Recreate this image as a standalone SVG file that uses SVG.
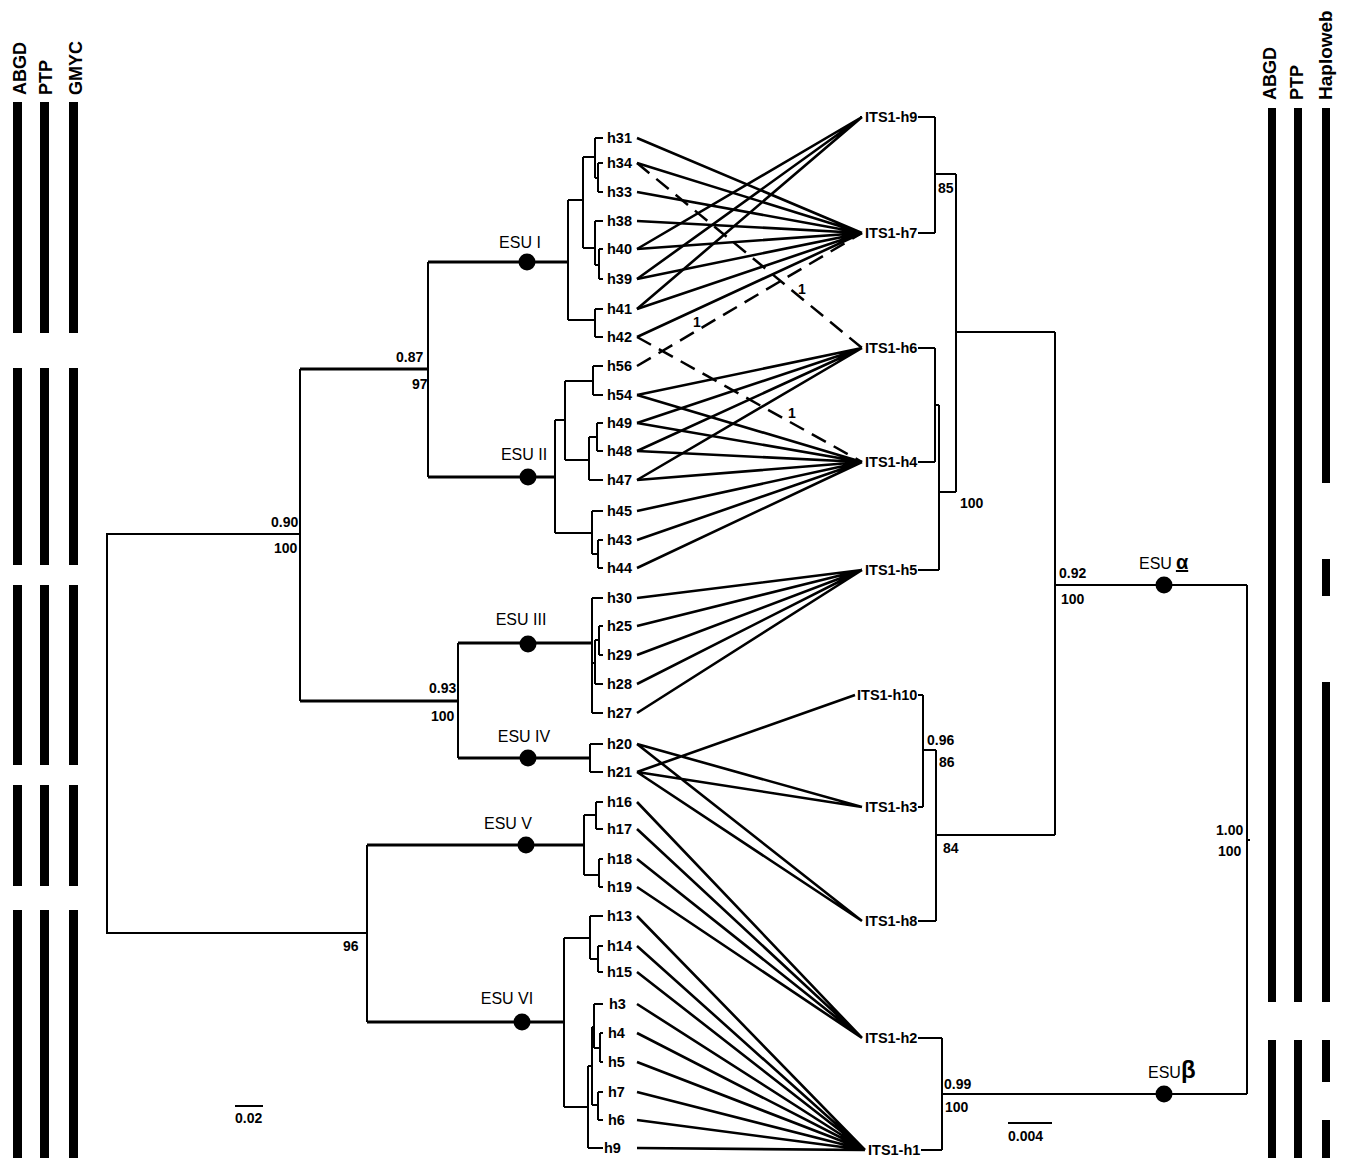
<svg xmlns="http://www.w3.org/2000/svg" width="1349" height="1158" viewBox="0 0 1349 1158">
<style>
.t{fill:none;stroke:#000;stroke-width:2}
.tk{fill:none;stroke:#000;stroke-width:3}
.c{fill:none;stroke:#000;stroke-width:2.6}
.d{fill:none;stroke:#000;stroke-width:2.5;stroke-dasharray:16 9}
.bar{fill:#000}
.lab{font-family:"Liberation Sans",Arial,sans-serif;font-weight:bold;font-size:14.5px;fill:#000}
.num{font-family:"Liberation Sans",Arial,sans-serif;font-weight:bold;font-size:14px;fill:#000}
.esu{font-family:"Liberation Sans",Arial,sans-serif;font-size:16px;fill:#000}
.ttl{font-family:"Liberation Sans",Arial,sans-serif;font-weight:bold;font-size:18px;fill:#000}
.dot{fill:#000}
</style>
<rect width="1349" height="1158" fill="#fff"/>

<g id="left-methods">
<text class="ttl" transform="translate(26,95) rotate(-90)">ABGD</text>
<text class="ttl" transform="translate(52,95) rotate(-90)">PTP</text>
<text class="ttl" transform="translate(82,95) rotate(-90)">GMYC</text>
<rect class="bar" x="13" y="102" width="9" height="231"/><rect class="bar" x="40" y="102" width="9" height="231"/><rect class="bar" x="69" y="102" width="9" height="231"/>
<rect class="bar" x="13" y="368" width="9" height="197"/><rect class="bar" x="40" y="368" width="9" height="197"/><rect class="bar" x="69" y="368" width="9" height="197"/>
<rect class="bar" x="13" y="585" width="9" height="180"/><rect class="bar" x="40" y="585" width="9" height="180"/><rect class="bar" x="69" y="585" width="9" height="180"/>
<rect class="bar" x="13" y="785" width="9" height="101"/><rect class="bar" x="40" y="785" width="9" height="101"/><rect class="bar" x="69" y="785" width="9" height="101"/>
<rect class="bar" x="13" y="910" width="9" height="248"/><rect class="bar" x="40" y="910" width="9" height="248"/><rect class="bar" x="69" y="910" width="9" height="248"/>
</g>

<g id="right-methods">
<text class="ttl" transform="translate(1276,100) rotate(-90)">ABGD</text>
<text class="ttl" transform="translate(1303,100) rotate(-90)">PTP</text>
<text class="ttl" style="font-size:19px" transform="translate(1332,100) rotate(-90)">Haploweb</text>
<rect class="bar" x="1268" y="108" width="8" height="894"/><rect class="bar" x="1294" y="108" width="8" height="894"/>
<rect class="bar" x="1268" y="1040" width="8" height="118"/><rect class="bar" x="1294" y="1040" width="8" height="118"/>
<rect class="bar" x="1322" y="108" width="8" height="375"/>
<rect class="bar" x="1322" y="559" width="8" height="37"/>
<rect class="bar" x="1322" y="682" width="8" height="320"/>
<rect class="bar" x="1322" y="1040" width="8" height="42"/>
<rect class="bar" x="1322" y="1120" width="8" height="38"/>
</g>

<g id="tree-left">
<path class="t" d="M107 534 V933 M106 534 H300 M106 933 H367 M300 369 V701 M428 262 V477 M458 643 V758 M367 845 V1022"/>
<path class="tk" d="M300 369 H428 M300 701 H458 M428 262 H568 M428 477 H555 M458 643 H592 M458 758 H590 M367 845 H584 M367 1022 H564"/>
<path class="t" d="M568 200 V320 M568 200 H583 M583 157 V248 M583 157 H595 M595 138 V178 M595 138 H603 M595 178 H598 M598 163 V192 M598 163 H603 M598 192 H603 M583 248 H595 M595 221 V265 M595 221 H603 M595 265 H599 M599 249 V279 M599 249 H603 M599 279 H603 M568 320 H595 M595 309 V337 M595 309 H603 M595 337 H603"/>
<path class="t" d="M555 420 V533 M555 420 H565 M565 381 V460 M565 381 H593 M593 366 V395 M593 366 H603 M593 395 H603 M565 460 H589 M589 437 V480 M589 437 H597 M597 423 V451 M597 423 H603 M597 451 H603 M589 480 H603 M555 533 H592 M592 511 V554 M592 511 H603 M592 554 H598 M598 540 V568 M598 540 H603 M598 568 H603"/>
<path class="t" d="M592 598 V713 M592 598 H603 M592 713 H603 M592 663 H595 M595 640 V684 M595 640 H599 M599 626 V655 M599 626 H603 M599 655 H603 M595 684 H603"/>
<path class="t" d="M590 744 V772 M590 744 H603 M590 772 H603"/>
<path class="t" d="M584 815 V875 M584 815 H596 M596 802 V829 M596 802 H603 M596 829 H603 M584 875 H599 M599 859 V887 M599 859 H603 M599 887 H603"/>
<path class="t" d="M564 938 V1107 M564 938 H590 M590 916 V959 M590 916 H603 M590 959 H598 M598 946 V972 M598 946 H603 M598 972 H603 M564 1107 H588 M588 1066 V1148 M588 1148 H603 M588 1066 H592 M592 1027 V1105 M592 1027 H594 M594 1004 V1048 M594 1004 H603 M594 1048 H600 M600 1033 V1062 M600 1033 H603 M600 1062 H603 M592 1105 H598 M598 1092 V1120 M598 1092 H603 M598 1120 H603"/>
<text class="num" x="396" y="362">0.87</text><text class="num" x="412" y="389">97</text>
<text class="num" x="271" y="527">0.90</text><text class="num" x="274" y="553">100</text>
<text class="num" x="429" y="693">0.93</text><text class="num" x="431" y="721">100</text>
<text class="num" x="343" y="951">96</text>
<path class="t" d="M235 1106 H263"/>
<text class="num" x="235" y="1123">0.02</text>
</g>

<g id="esu-I"><circle class="dot" cx="527" cy="262" r="8.5"/><text class="esu" x="520" y="248" text-anchor="middle">ESU I</text></g>
<g id="esu-II"><circle class="dot" cx="528" cy="477" r="8.5"/><text class="esu" x="524" y="460" text-anchor="middle">ESU II</text></g>
<g id="esu-III"><circle class="dot" cx="528" cy="644" r="8.5"/><text class="esu" x="521" y="625" text-anchor="middle">ESU III</text></g>
<g id="esu-IV"><circle class="dot" cx="528" cy="758" r="8.5"/><text class="esu" x="524" y="742" text-anchor="middle">ESU IV</text></g>
<g id="esu-V"><circle class="dot" cx="526" cy="845" r="8.5"/><text class="esu" x="508" y="829" text-anchor="middle">ESU V</text></g>
<g id="esu-VI"><circle class="dot" cx="522" cy="1022" r="8.5"/><text class="esu" x="507" y="1004" text-anchor="middle">ESU VI</text></g>

<g id="haplotypes" class="lab">
<g id="h31"><text x="607" y="143">h31</text></g>
<g id="h34"><text x="607" y="168">h34</text></g>
<g id="h33"><text x="607" y="197">h33</text></g>
<g id="h38"><text x="607" y="226">h38</text></g>
<g id="h40"><text x="607" y="254">h40</text></g>
<g id="h39"><text x="607" y="284">h39</text></g>
<g id="h41"><text x="607" y="314">h41</text></g>
<g id="h42"><text x="607" y="342">h42</text></g>
<g id="h56"><text x="607" y="371">h56</text></g>
<g id="h54"><text x="607" y="400">h54</text></g>
<g id="h49"><text x="607" y="428">h49</text></g>
<g id="h48"><text x="607" y="456">h48</text></g>
<g id="h47"><text x="607" y="485">h47</text></g>
<g id="h45"><text x="607" y="516">h45</text></g>
<g id="h43"><text x="607" y="545">h43</text></g>
<g id="h44"><text x="607" y="573">h44</text></g>
<g id="h30"><text x="607" y="603">h30</text></g>
<g id="h25"><text x="607" y="631">h25</text></g>
<g id="h29"><text x="607" y="660">h29</text></g>
<g id="h28"><text x="607" y="689">h28</text></g>
<g id="h27"><text x="607" y="718">h27</text></g>
<g id="h20"><text x="607" y="749">h20</text></g>
<g id="h21"><text x="607" y="777">h21</text></g>
<g id="h16"><text x="607" y="807">h16</text></g>
<g id="h17"><text x="607" y="834">h17</text></g>
<g id="h18"><text x="607" y="864">h18</text></g>
<g id="h19"><text x="607" y="892">h19</text></g>
<g id="h13"><text x="607" y="921">h13</text></g>
<g id="h14"><text x="607" y="951">h14</text></g>
<g id="h15"><text x="607" y="977">h15</text></g>
<g id="h3"><text x="609" y="1009">h3</text></g>
<g id="h4"><text x="608" y="1038">h4</text></g>
<g id="h5"><text x="608" y="1067">h5</text></g>
<g id="h7"><text x="608" y="1097">h7</text></g>
<g id="h6"><text x="608" y="1125">h6</text></g>
<g id="h9"><text x="604" y="1153">h9</text></g>
</g>

<g id="its1" class="lab">
<g id="ITS1-h9"><text x="865" y="122">ITS1-h9</text></g>
<g id="ITS1-h7"><text x="865" y="238">ITS1-h7</text></g>
<g id="ITS1-h6"><text x="865" y="353">ITS1-h6</text></g>
<g id="ITS1-h4"><text x="865" y="467">ITS1-h4</text></g>
<g id="ITS1-h5"><text x="865" y="575">ITS1-h5</text></g>
<g id="ITS1-h10"><text x="857" y="700">ITS1-h10</text></g>
<g id="ITS1-h3"><text x="865" y="812">ITS1-h3</text></g>
<g id="ITS1-h8"><text x="865" y="926">ITS1-h8</text></g>
<g id="ITS1-h2"><text x="865" y="1043">ITS1-h2</text></g>
<g id="ITS1-h1"><text x="868" y="1155">ITS1-h1</text></g>
</g>

<g id="tree-right">
<path class="t" d="M918 117 H935 M918 233 H935 M935 117 V233 M935 174 H956 M918 348 H935 M918 462 H935 M935 348 V462 M935 405 H939 M918 570 H939 M939 405 V570 M939 492 H956 M956 174 V492 M956 332 H1055 M918 695 H923 M918 807 H923 M923 695 V807 M923 750 H936 M918 921 H936 M936 750 V921 M936 835 H1055 M1055 332 V835 M1055 585 H1247 M918 1038 H942 M921 1150 H942 M942 1038 V1150 M942 1094 H1247 M1247 585 V1094 M1247 840 H1250"/>
<text class="num" x="938" y="193">85</text>
<text class="num" x="960" y="508">100</text>
<text class="num" x="927" y="745">0.96</text>
<text class="num" x="939" y="767">86</text>
<text class="num" x="943" y="853">84</text>
<text class="num" x="1059" y="578">0.92</text>
<text class="num" x="1061" y="604">100</text>
<text class="num" x="1216" y="835">1.00</text>
<text class="num" x="1218" y="856">100</text>
<text class="num" x="944" y="1089">0.99</text>
<text class="num" x="945" y="1112">100</text>
<path class="t" d="M1008 1123 H1052"/>
<text class="num" x="1008" y="1141">0.004</text>
</g>

<g id="esu-alpha"><circle class="dot" cx="1164" cy="585" r="8.5"/><text class="esu" x="1139" y="569">ESU<tspan dx="4" font-weight="bold" font-size="20" text-decoration="underline">α</tspan></text></g>
<g id="esu-beta"><circle class="dot" cx="1164" cy="1094" r="8.5"/><text class="esu" x="1148" y="1078">ESU<tspan font-size="24" font-weight="bold">β</tspan></text></g>

<g id="connectors">
<path class="c" d="M637 249 L862 117 M637 279 L862 117 M637 309 L862 117"/>
<path class="c" d="M637 138 L862 233 M637 163 L862 233 M637 192 L862 233 M637 221 L862 233 M637 249 L862 233 M637 279 L862 233 M637 309 L862 233 M637 337 L862 233"/>
<path class="c" d="M637 395 L862 348 M637 423 L862 348 M637 451 L862 348 M637 480 L862 348"/>
<path class="c" d="M637 395 L862 462 M637 423 L862 462 M637 451 L862 462 M637 480 L862 462 M637 511 L862 462 M637 540 L862 462 M637 568 L862 462"/>
<path class="c" d="M637 598 L862 570 M637 626 L862 570 M637 655 L862 570 M637 684 L862 570 M637 713 L862 570"/>
<path class="c" d="M637 772 L855 695 M637 744 L862 807 M637 772 L862 807 M637 744 L862 921 M637 772 L862 921"/>
<path class="c" d="M637 802 L862 1038 M637 829 L862 1038 M637 859 L862 1038 M637 887 L862 1038"/>
<path class="c" d="M637 916 L865 1150 M637 946 L865 1150 M637 972 L865 1150 M637 1004 L865 1150 M637 1033 L865 1150 M637 1062 L865 1150 M637 1092 L865 1150 M637 1120 L865 1150 M637 1148 L865 1150"/>
<path class="d" d="M637 163 L862 348 M637 337 L862 462 M637 366 L862 233"/>
<text class="num" x="697" y="327" text-anchor="middle">1</text>
<text class="num" x="802" y="294" text-anchor="middle">1</text>
<text class="num" x="792" y="418" text-anchor="middle">1</text>
</g>
</svg>
